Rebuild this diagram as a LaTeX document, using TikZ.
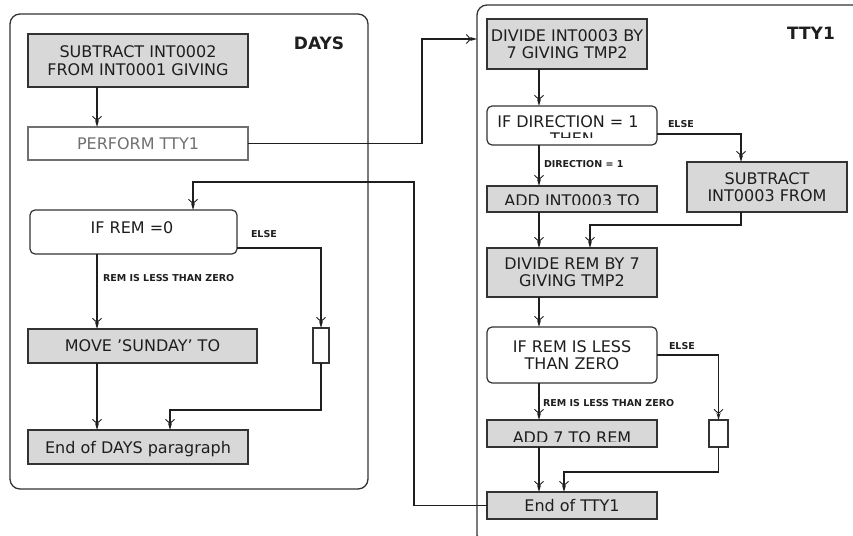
\documentclass[tikz,border=0pt]{standalone}
\usepackage{fontspec}
\setmainfont{DejaVu Sans}
\usetikzlibrary{arrows.meta}
\definecolor{ink}{HTML}{1E1E1E}
\definecolor{boxgray}{HTML}{D8D8D8}
\definecolor{edge}{HTML}{333333}
\definecolor{soft}{HTML}{707070}

\begin{document}
\begin{tikzpicture}[x=1pt,y=-1pt,
  every node/.style={inner sep=0pt, outer sep=0pt},
  pane/.style={draw=edge, line width=1.3pt, rounded corners=10pt},
  stmt/.style={draw=edge, line width=1.2pt, fill=boxgray, text=ink, align=center,
    font=\fontsize{16}{17.5}\selectfont},
  cond/.style={draw=edge, line width=1.2pt, fill=white, rounded corners=5pt, text=ink,
    align=center, font=\fontsize{16}{17.5}\selectfont},
  callbox/.style={draw=soft, line width=1.1pt, fill=white, text=soft,
    font=\fontsize{16}{17.5}\selectfont},
  stub/.style={draw=edge, line width=1.2pt, fill=white},
  txt/.style={text=ink, font=\fontsize{16}{17.5}\selectfont, anchor=base},
  heading/.style={text=ink, font=\fontsize{17}{20}\selectfont\bfseries, anchor=base},
  caselabel/.style={text=ink, font=\fontsize{9.5}{10}\selectfont\bfseries, anchor=base west},
  wire/.style={draw=ink, line width=1.2pt},
  flow/.style={wire, -{Straight Barb[length=4pt,width=9pt,line width=0.9pt,sep=-1pt] Stealth[length=7pt,width=4pt]}},
]
\useasboundingbox (0,0) rectangle (853,535);

% ---------- DAYS paragraph ----------
\node[pane, minimum width=358pt, minimum height=475pt] (days) at (189,251.5) {};
\node[heading] (daystitle) at (319,49) {DAYS};

\node[stmt, minimum width=220pt, minimum height=53pt] (s1) at (138,60.5)
  {SUBTRACT INT0002\\FROM INT0001 GIVING};
\node[callbox, minimum width=220pt, minimum height=33pt] (p1) at (138,143.5) {PERFORM TTY1};
\node[cond, minimum width=207pt, minimum height=44pt] (if1) at (133.5,232) {};
\node[txt] (if1t) at (132,233) {IF REM =0};
\node[stub, minimum width=16pt, minimum height=35pt] (b1) at (321,345.5) {};
\node[stmt, minimum width=229pt, minimum height=34pt] (m1) at (142.5,346) {MOVE 'SUNDAY' TO};
\node[stmt, minimum width=220pt, minimum height=34pt, text depth=0pt] (e1) at (138,447)
  {End of DAYS paragraph};

\node[caselabel] (else1) at (251,237) {ELSE};
\node[caselabel] (lt1) at (103,281) {REM IS LESS THAN ZERO};

% ---------- TTY1 paragraph ----------
\begin{scope}
  \clip (0,0) rectangle (853,535);
  \node[pane, minimum width=420pt, minimum height=540pt] (tty) at (687,275) {};
\end{scope}
\node[heading] (ttytitle) at (811,40) {TTY1};

\node[stmt, minimum width=160pt, minimum height=50pt] (d1) at (567,44)
  {DIVIDE INT0003 BY\\7 GIVING TMP2};
\node[cond, minimum width=170pt, minimum height=39pt] (if2) at (572,125.5) {};
\node[txt] (if2a) at (568,127) {IF DIRECTION = 1};
\begin{scope}
  \clip (488,107) rectangle (656,137.5);
  \node[txt] (if2b) at (572,144) {THEN};
\end{scope}
\node[stmt, minimum width=160pt, minimum height=50pt] (sub2) at (767,187)
  {SUBTRACT\\INT0003 FROM};
\node[stmt, minimum width=170pt, minimum height=26pt] (add1) at (572,199) {};
\begin{scope}
  \clip (488,187) rectangle (656,204.5);
  \node[txt] (add1t) at (572,206.5) {ADD INT0003 TO};
\end{scope}
\node[stmt, minimum width=170pt, minimum height=49pt] (d2) at (572,272.5)
  {DIVIDE REM BY 7\\GIVING TMP2};
\node[cond, minimum width=170pt, minimum height=56pt] (if3) at (572,355)
  {IF REM IS LESS\\THAN ZERO};
\node[stub, minimum width=19pt, minimum height=27pt] (b2) at (718.5,433.5) {};
\node[stmt, minimum width=170pt, minimum height=27pt] (add2) at (572,433.5) {};
\begin{scope}
  \clip (488,421) rectangle (656,441.5);
  \node[txt] (add2t) at (572,443.5) {ADD 7 TO REM};
\end{scope}
\node[stmt, minimum width=170pt, minimum height=27pt, text depth=0pt] (end2) at (572,505.5)
  {End of TTY1};

\node[caselabel] (else2) at (668,127) {ELSE};
\node[caselabel] (dir1) at (544,167) {DIRECTION = 1};
\node[caselabel] (else3) at (669,349) {ELSE};
\node[caselabel] (lt2) at (543,406) {REM IS LESS THAN ZERO};

% ---------- connector columns and bends ----------
\coordinate (cL)  at (97,0);
\coordinate (cR)  at (539,0);
\coordinate (cS)  at (741,0);
\coordinate (k1)  at (414,182);
\coordinate (k2)  at (422,39);
\coordinate (tin) at (tty.west |- k2);
\coordinate (k3)  at (170,410);
\coordinate (k4)  at (590,225);
\coordinate (k5)  at (564,472);
\coordinate (cT)  at (193,0);

% DAYS flow
\draw[flow] (s1.south -| cL) -- (p1.north -| cL);
\draw[flow] (p1.east) -| (k2) -- (tin);
\draw[flow] (if1.south -| cL) -- (m1.north -| cL);
\draw[flow] ([yshift=6pt]if1.south east) -| (b1.north);
\draw[flow] (m1.south -| cL) -- (e1.north -| cL);
\draw[flow] (b1.south) |- (k3) -- (e1.north -| k3);

% TTY1 flow
\draw[flow] (d1.south -| cR) -- (if2.north -| cR);
\draw[flow] ([yshift=11pt]if2.south east) -| (sub2.north -| cS);
\draw[flow] (if2.south -| cR) -- (add1.north -| cR);
\draw[flow] (add1.south -| cR) -- (d2.north -| cR);
\draw[flow] (sub2.south -| cS) |- (k4) -- (d2.north -| k4);
\draw[flow] (d2.south -| cR) -- (if3.north -| cR);
\draw[flow] (if3.east) -| (b2.north);
\draw[flow] (if3.south -| cR) -- (add2.north -| cR);
\draw[flow] (add2.south -| cR) -- (end2.north -| cR);
\draw[flow] (b2.south) |- (k5) -- (end2.north -| k5);

% return to DAYS
\draw[flow] (end2.west) -| (k1) -| (if1.north -| cT);
\end{tikzpicture}
\end{document}
